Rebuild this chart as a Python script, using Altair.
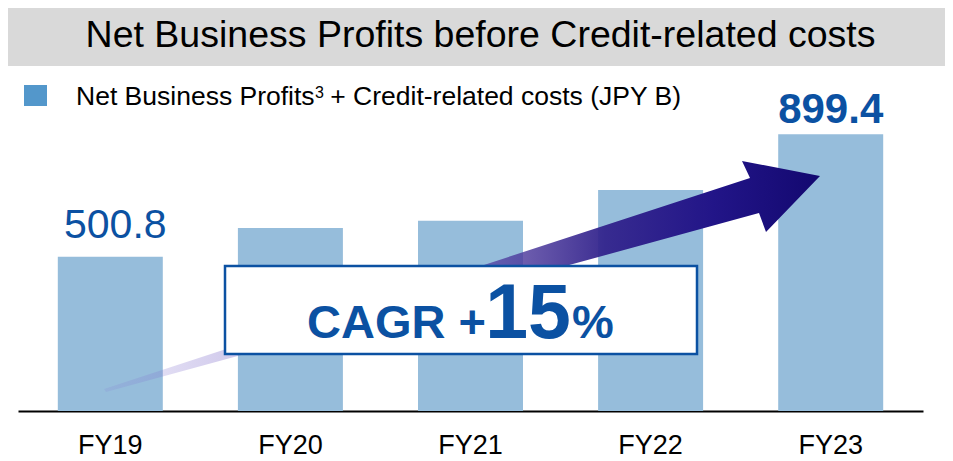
import altair as alt
import pandas as pd

# ---- data ----
years = ["FY19", "FY20", "FY21", "FY22", "FY23"]
values = [500.8, 595.0, 618.0, 718.0, 899.4]
labelled_years = ["FY19", "FY23"]

title_text = "Net Business Profits before Credit-related costs"
legend_main = "Net Business Profits"
legend_sup = "3"
legend_rest = "+ Credit-related costs (JPY B)"
cagr_prefix = "CAGR +"
cagr_value = "15"
cagr_suffix = "%"

FONT = "Liberation Sans"
BLUE = "#0b51a2"
BAR = "#96bddb"

df = pd.DataFrame({"year": years, "value": values})
one = pd.DataFrame({"k": [0]})

x_enc = alt.X(
    "year:N",
    sort=years,
    scale=alt.Scale(paddingInner=0.417, paddingOuter=0.221),
    axis=alt.Axis(
        title=None, labelAngle=0, ticks=False, tickSize=0, labelPadding=42,
        labelBaseline="alphabetic", labelFont=FONT, labelFontSize=27,
        labelColor="black", domainColor="black", domainWidth=2, grid=False,
    ),
)
y_enc = alt.Y("value:Q", scale=alt.Scale(domain=[0, 1121], nice=False, zero=True), axis=None)

band = alt.Chart(one).mark_rect(color="#d9d9d9").encode(
    x=alt.value(-10), x2=alt.value(927), y=alt.value(-58), y2=alt.value(0)
)
title = alt.Chart(one).mark_text(
    text=title_text, font=FONT, fontSize=37.5, color="black", align="center", baseline="alphabetic"
).encode(x=alt.value(462.5), y=alt.value(-19))

leg_sq = alt.Chart(one).mark_rect(color="#5397cb").encode(
    x=alt.value(6), x2=alt.value(29), y=alt.value(19), y2=alt.value(40)
)
leg_t1 = alt.Chart(one).mark_text(
    text=legend_main, font=FONT, fontSize=26.5, color="black", align="left", baseline="alphabetic"
).encode(x=alt.value(58), y=alt.value(39))
leg_t2 = alt.Chart(one).mark_text(
    text=legend_sup, font=FONT, fontSize=16, color="black", align="left", baseline="alphabetic"
).encode(x=alt.value(297), y=alt.value(32))
leg_t3 = alt.Chart(one).mark_text(
    text=legend_rest, font=FONT, fontSize=26.5, color="black", align="right", baseline="alphabetic"
).encode(x=alt.value(663), y=alt.value(39))

bars = alt.Chart(df).mark_bar(color=BAR).encode(x=x_enc, y=y_enc)

arrow_path = "M-358,106L288,-105L280,-122L358,-107L304,-51L297,-70L-356,109Z"
arrow_fill = {
    "gradient": "linear", "x1": 0, "y1": 0.5, "x2": 1, "y2": 0.5,
    "stops": [
        {"offset": 0.0, "color": "rgba(130,115,210,0.15)"},
        {"offset": 0.15, "color": "rgba(120,100,200,0.30)"},
        {"offset": 0.40, "color": "rgba(95,75,175,0.55)"},
        {"offset": 0.58, "color": "rgba(75,55,155,0.80)"},
        {"offset": 0.70, "color": "rgba(50,35,140,0.95)"},
        {"offset": 0.85, "color": "#221588"},
        {"offset": 1.0, "color": "#130870"},
    ],
}
arrow = alt.Chart(one).mark_point(
    shape=arrow_path, size=4, filled=True, fill=arrow_fill, opacity=1, strokeWidth=0
).encode(x=alt.value(444), y=alt.value(217))

box = alt.Chart(one).mark_rect(fill="white", stroke=BLUE, strokeWidth=2.5).encode(
    x=alt.value(207), x2=alt.value(679), y=alt.value(200), y2=alt.value(288)
)
c1 = alt.Chart(one).mark_text(
    text=cagr_prefix, font=FONT, fontSize=47, fontWeight="bold", color=BLUE,
    align="left", baseline="alphabetic"
).encode(x=alt.value(289), y=alt.value(272))
c2 = alt.Chart(one).mark_text(
    text=cagr_value, font=FONT, fontSize=77, fontWeight="bold", color=BLUE,
    align="center", baseline="alphabetic"
).encode(x=alt.value(510), y=alt.value(272))
c3 = alt.Chart(one).mark_text(
    text=cagr_suffix, font=FONT, fontSize=47, fontWeight="bold", color=BLUE,
    align="left", baseline="alphabetic"
).encode(x=alt.value(554), y=alt.value(272))

lab_first = alt.Chart(df).transform_filter(
    alt.datum.year == labelled_years[0]
).mark_text(
    font=FONT, fontSize=41, color=BLUE, align="center", baseline="alphabetic", dx=5, dy=-19
).encode(x=x_enc, y=y_enc, text=alt.Text("value:Q", format=".1f"))

lab_last = alt.Chart(df).transform_filter(
    alt.datum.year == labelled_years[1]
).mark_text(
    font=FONT, fontSize=42, fontWeight="bold", color=BLUE, align="center",
    baseline="alphabetic", dy=-11
).encode(x=x_enc, y=y_enc, text=alt.Text("value:Q", format=".1f"))

chart = alt.layer(
    band, title, leg_sq, leg_t1, leg_t2, leg_t3, bars, arrow, box, c1, c2, c3, lab_first, lab_last
).properties(
    width=905,
    height=345,
    padding={"left": 10, "top": 58, "right": 22, "bottom": 48},
    autosize=alt.AutoSizeParams(type="none"),
    background="white",
).configure_view(stroke=None)

chart.save("out.html", embed_options={"renderer": "svg", "actions": False})
